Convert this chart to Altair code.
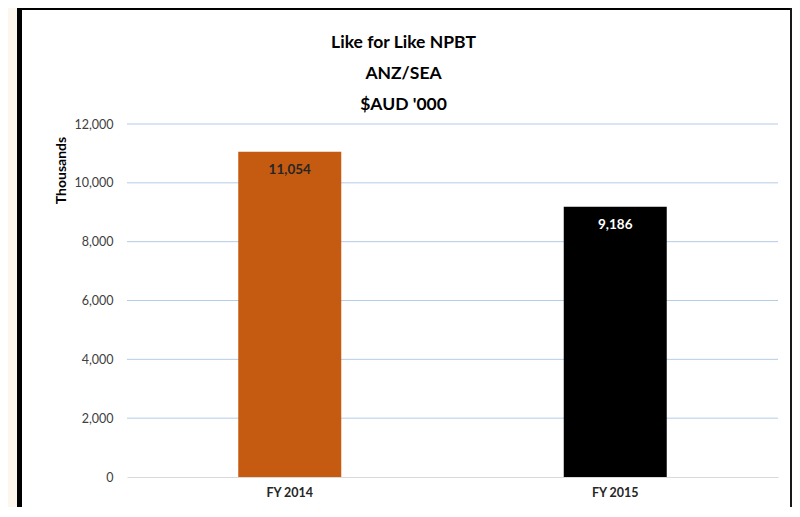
import altair as alt
import pandas as pd

# ---- data ----
categories = ["FY 2014", "FY 2015"]
values = [11054, 9186]
y_ticks = [0, 2000, 4000, 6000, 8000, 10000, 12000]
title_lines = ["Like for Like NPBT", "ANZ/SEA", "$AUD '000"]
y_title = "Thousands"

# ---- styles ----
bar_colors = ["#C55A11", "#000000"]
label_colors = ["#262626", "#FFFFFF"]
GRID = "#B4CDE6"
FONT = "Lato"

df = pd.DataFrame({"year": categories, "value": values})
grid_df = pd.DataFrame({"value": y_ticks[1:]})
frame_df = pd.DataFrame({"k": [0]})

W, H = 651, 353
PAD = {"left": 119, "top": 116, "right": 14, "bottom": 30}

y_scale = alt.Scale(domain=[0, 12000], nice=False)
x_scale = alt.Scale(domain=categories, paddingInner=0, paddingOuter=0)

x_axis = alt.Axis(title=None, labelAngle=0, ticks=False, domain=True,
                  domainColor="#D9D9D9", labelPadding=9, labelFont=FONT,
                  labelFontWeight="bold", labelFontSize=12.5, labelColor="#262626")
y_axis = alt.Axis(title=y_title, values=y_ticks, format=",.0f", grid=False,
                  ticks=False, domain=False, labelPadding=14,
                  labelFont=FONT, labelFontSize=12.5, labelColor="#404040",
                  titleFont=FONT, titleFontSize=14, titleFontWeight="bold",
                  titleColor="#000000", titleX=-66, titleY=46,
                  titleBaseline="middle")


def strip(x1, x2, y1, y2, color):
    # decorative border strips of the chart frame (outside the plot area)
    return alt.Chart(frame_df).mark_rect(color=color).encode(
        x=alt.value(x1), x2=alt.value(x2), y=alt.value(y1), y2=alt.value(y2)
    )


cream_left = strip(-119, -110, -116, H + 80, "#FDF6EC")
black_left = strip(-110, -105, -116, H + 80, "#000000")
black_top = strip(-110, 665, -116, -114, "#000000")
black_right = strip(663, 665, -116, H + 80, "#1A1A1A")

grid = alt.Chart(grid_df).mark_rule(color=GRID, strokeWidth=1).encode(
    y=alt.Y("value:Q", scale=y_scale, axis=y_axis)
)

bars = alt.Chart(df).mark_bar(size=103).encode(
    x=alt.X("year:N", sort=categories, scale=x_scale, axis=x_axis),
    y=alt.Y("value:Q", scale=y_scale, axis=y_axis),
    color=alt.Color("year:N", scale=alt.Scale(domain=categories, range=bar_colors),
                    legend=None),
)

labels = alt.Chart(df).mark_text(dy=18, baseline="middle", font=FONT, fontSize=13.5,
                                 fontWeight="bold").encode(
    x=alt.X("year:N", sort=categories, scale=x_scale, axis=x_axis),
    y=alt.Y("value:Q", scale=y_scale, axis=y_axis),
    text=alt.Text("value:Q", format=",.0f"),
    color=alt.Color("year:N", scale=alt.Scale(domain=categories, range=label_colors),
                    legend=None),
)

chart = (
    alt.layer(grid, bars, labels, cream_left, black_left, black_top, black_right)
    .resolve_scale(color="independent")
    .properties(
        width=W,
        height=H,
        autosize=alt.AutoSizeParams(type="none"),
        padding=PAD,
        title=alt.Title(title_lines, font=FONT, fontSize=17.5, fontWeight="bold",
                        color="#000000", anchor="middle", frame="group",
                        dx=-49, offset=-105, lineHeight=31),
    )
    .configure(background="#FFFFFF")
    .configure_view(stroke=None)
)

chart.save("out.html", embed_options={"renderer": "svg", "actions": False})
